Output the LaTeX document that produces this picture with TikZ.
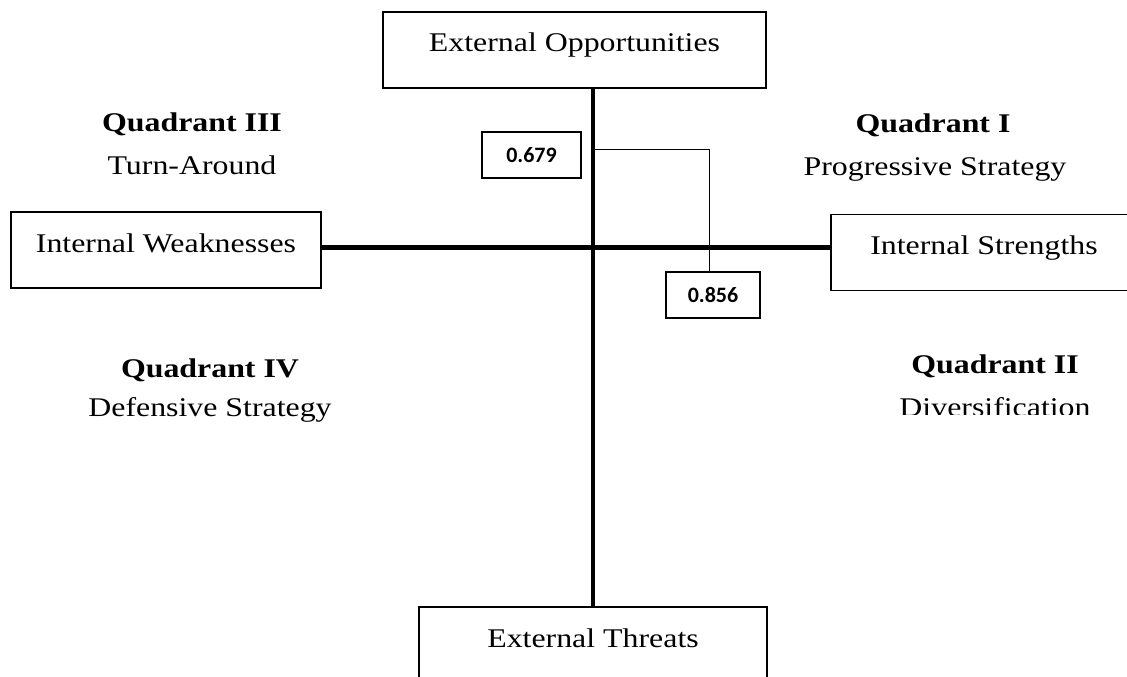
\documentclass[tikz,border=0pt]{standalone}
\usepackage{fontspec}
\setmainfont{Liberation Serif}[FakeStretch=1.18]
\newfontfamily\numfont{Carlito}
\begin{document}
\begin{tikzpicture}[x=1pt,y=-1pt,
  bigbox/.style={draw, line width=1.4pt, inner xsep=0pt, inner ysep=0pt, minimum height=76pt,
    text height=40pt, text depth=36pt, font=\fontsize{27}{31}\selectfont},
  numbox/.style={draw, line width=1.4pt, inner sep=0pt, minimum height=46pt,
    font=\numfont\bfseries\fontsize{22}{25}\selectfont},
  axis/.style={line width=4.5pt},
  thin/.style={line width=1pt},
  qtitle/.style={anchor=base, inner sep=0pt, font=\bfseries\fontsize{27}{31}\selectfont},
  qtext/.style={anchor=base, inner sep=0pt, font=\fontsize{27}{31}\selectfont}]
\useasboundingbox (0,0) rectangle (1127,677);
\clip (0,0) rectangle (1127,677);
% boxes
\node[bigbox, minimum width=383pt] (top) at (574.5,50) {External Opportunities};
\node[bigbox, minimum width=310pt] (left) at (166,250) {Internal Weaknesses};
\node[bigbox, minimum width=306pt] (right) at (984,252.5) {Internal Strengths};
\node[bigbox, minimum width=348pt] (bot) at (593,645) {External Threats};
% axes
\coordinate (c) at (593,247.5);
\draw[axis] (top.south -| c) -- (bot.north -| c);
\draw[axis] (left.east |- c) -- (right.west |- c);
% value boxes
\node[numbox, minimum width=99pt] (v1) at (531.5,155) {0.679};
\node[numbox, minimum width=94pt] (v2) at (713,295) {0.856};
\coordinate (k) at (709,149);
\draw[thin] (c |- k) -- (k) -- (k |- v2.north);
% quadrant labels
\node[qtitle] (q3) at (192,131) {Quadrant III};
\node[qtext] (q3t) at (192,174) {Turn-Around};
\node[qtitle] (q1) at (933,132) {Quadrant I};
\node[qtext] (q1t) at (935,175) {Progressive Strategy};
\node[qtitle] (q4) at (210,377) {Quadrant IV};
\node[qtext] (q4t) at (210,416) {Defensive Strategy};
\node[qtitle] (q2) at (995,373) {Quadrant II};
\begin{scope}
\clip (880,380) rectangle (1127,414);
\node[qtext] (q2t) at (995,416) {Diversification};
\end{scope}
\end{tikzpicture}
\end{document}
